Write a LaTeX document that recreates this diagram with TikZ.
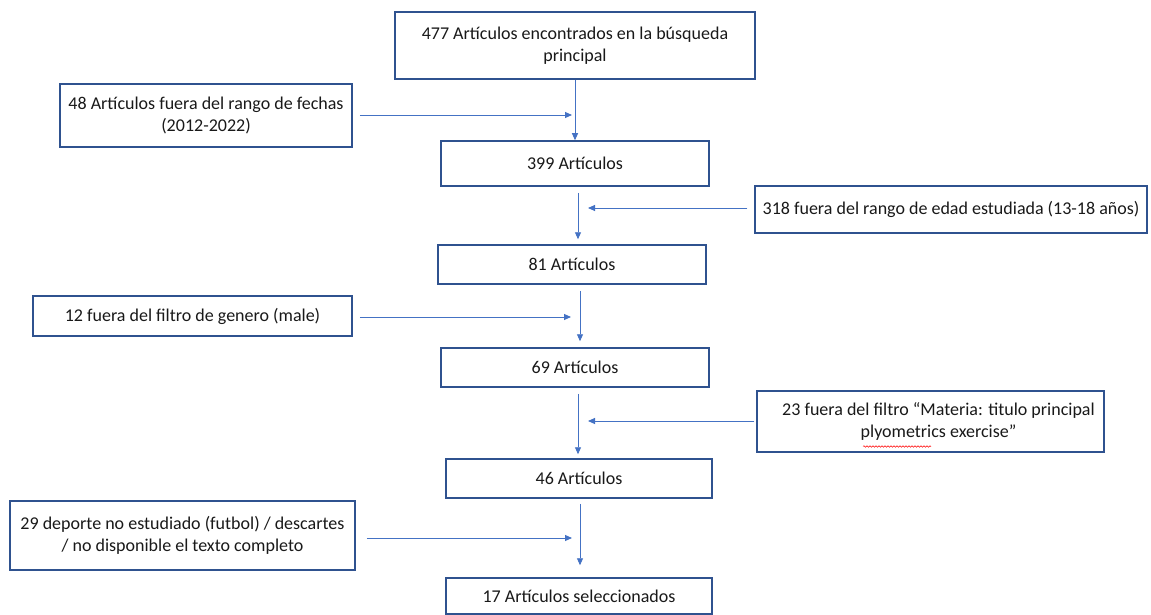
\documentclass[tikz,border=0pt]{standalone}
\usepackage{fontspec}
\setmainfont{Carlito}
\usetikzlibrary{arrows.meta,decorations.pathmorphing}
\definecolor{boxline}{HTML}{2F528F}
\definecolor{arrline}{HTML}{4472C4}
\begin{document}
\begin{tikzpicture}[x=1pt,y=-1pt,
 box/.style={draw=boxline,line width=1.5pt,rectangle,inner sep=0pt,align=center,font=\fontsize{18}{22}\selectfont,text=black!90},
 arr/.style={draw=arrline,line width=0.9pt,-{Triangle[length=7pt,width=6pt]}},
 squig/.style={draw=red,line width=0.5pt,decorate,decoration={snake,segment length=3pt,amplitude=0.8pt}}]
\useasboundingbox[fill=white] (0,0) rectangle (1151,615);
% main column
\node[box,minimum width=360,minimum height=67] (b1) at (575,45.5) {477 Artículos encontrados en la búsqueda\\principal};
\node[box,minimum width=268,minimum height=45] (b2) at (575,163.5) {399 Artículos};
\node[box,minimum width=268,minimum height=39] (b3) at (572,264.5) {81 Artículos};
\node[box,minimum width=268,minimum height=39] (b4) at (575,367.5) {69 Artículos};
\node[box,minimum width=266,minimum height=39] (b5) at (579,478.5) {46 Artículos};
\node[box,minimum width=266,minimum height=36] (b6) at (579,596) {17 Artículos seleccionados};
% side boxes
\node[box,minimum width=292,minimum height=63] (s1) at (206,115.5) {48 Artículos fuera del rango de fechas\\(2012-2022)};
\node[box,minimum width=392,minimum height=47] (s2) at (951,209.5) {318 fuera del rango de edad estudiada (13-18 años)};
\node[box,minimum width=319,minimum height=40] (s3) at (192.5,316) {12 fuera del filtro de genero (male)};
\node[box,minimum width=347,minimum height=61] (s4) at (930.5,421.5) {\hspace*{16pt}23 fuera del filtro “Materia: titulo principal\\\hspace*{16pt}plyometrics exercise”};
\node[box,minimum width=345,minimum height=69] (s5) at (182.5,535.5) {29 deporte no estudiado (futbol) / descartes\\/ no disponible el texto completo};
% junction coordinates on the vertical arrows
\coordinate (v2) at (578,0);
\coordinate (v3) at (580,0);
\coordinate (v4) at (578,0);
\coordinate (v5) at (580,0);
% vertical arrows
\draw[arr] (b1.south) -- (b2.north);
\draw[arr,shorten <=6pt,shorten >=5pt] (b2.south -| v2) -- (b3.north -| v2);
\draw[arr,shorten <=6pt,shorten >=6pt] (b3.south -| v3) -- (b4.north -| v3);
\draw[arr,shorten <=6pt,shorten >=4pt] (b4.south -| v4) -- (b5.north -| v4);
\draw[arr,shorten <=5pt,shorten >=12pt] (b5.south -| v5) -- (b6.north -| v5);
% horizontal arrows
\draw[arr,shorten <=7pt,shorten >=3pt] ([yshift=0.5pt]s1.east) -- ([yshift=0.5pt]s1.east -| b1.south);
\draw[arr,shorten <=7pt,shorten >=10pt] ([yshift=1.5pt]s2.west) -- ([yshift=1.5pt]s2.west -| v2);
\draw[arr,shorten <=7pt,shorten >=9pt] ([yshift=-1pt]s3.east) -- ([yshift=-1pt]s3.east -| v3);
\draw[arr,shorten <=2pt,shorten >=10pt] ([yshift=0.5pt]s4.west) -- ([yshift=0.5pt]s4.west -| v4);
\draw[arr,shorten <=11pt,shorten >=8pt] ([yshift=-2.5pt]s5.east) -- ([yshift=-2.5pt]s5.east -| v5);
% spell-check squiggle
\coordinate (q1) at (863,446.5);
\coordinate (q2) at (931,446.5);
\draw[squig] (q1) -- (q2);
\end{tikzpicture}
\end{document}
